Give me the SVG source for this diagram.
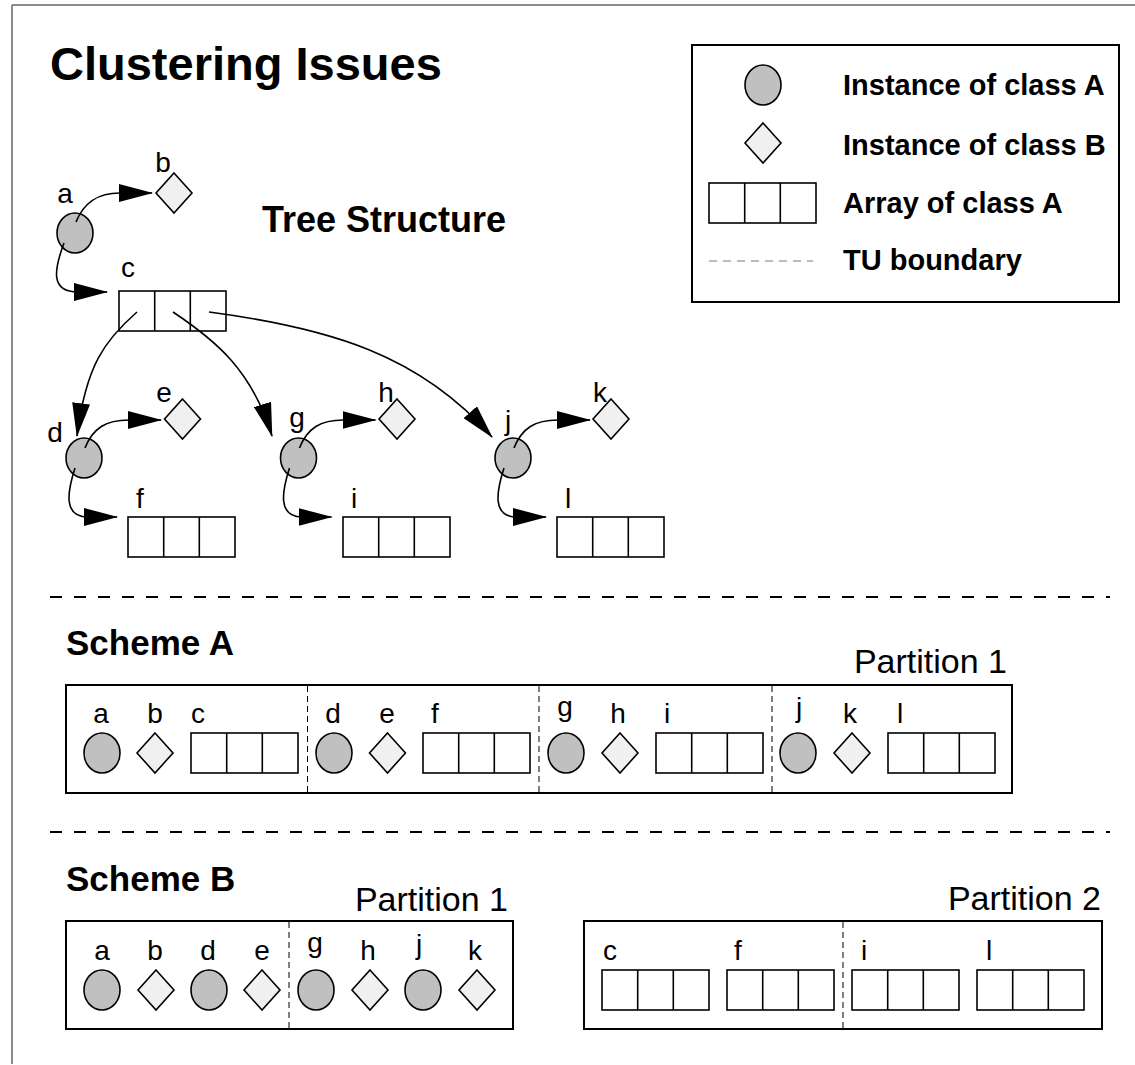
<svg xmlns="http://www.w3.org/2000/svg" xmlns:xlink="http://www.w3.org/1999/xlink" width="1135" height="1065" viewBox="0 0 1135 1065">
<style>
text{font-family:"Liberation Sans",Arial,Helvetica,sans-serif;fill:#000}
.lbl{font-size:28px;text-anchor:middle}
.ttl{font-weight:bold}
.inst{fill:#c0c0c0;stroke:#000;stroke-width:1.6}
.dia{fill:#f0f0f0;stroke:#000;stroke-width:1.6}
.arr rect{fill:#fff;stroke:#000;stroke-width:1.6}
.arr line{stroke:#000;stroke-width:1.6}
.box{fill:none;stroke:#000;stroke-width:2}
.tu{stroke:#000;stroke-width:1;stroke-dasharray:6,4;fill:none}
.sep{stroke:#000;stroke-width:2;stroke-dasharray:12,12;fill:none}
.con{fill:none;stroke:#000;stroke-width:1.6;marker-end:url(#ah)}
.part{font-size:34px;text-anchor:end}
</style>
<defs>
<marker id="ah" markerUnits="userSpaceOnUse" markerWidth="34" markerHeight="18" viewBox="0 0 34 18" refX="33" refY="9" orient="auto">
<path d="M0,0 L34,9 L0,18 Z" fill="#000"/>
</marker>
<g id="arr" class="arr"><rect x="0" y="0" width="107" height="40"/><line x1="35.7" y1="0" x2="35.7" y2="40"/><line x1="71.3" y1="0" x2="71.3" y2="40"/></g>
<path id="dm" class="dia" d="M0,-20 L18,0 L0,20 L-18,0 Z"/>
<ellipse id="ci" class="inst" cx="0" cy="0" rx="18" ry="20"/>
</defs>
<rect width="1135" height="1065" fill="#fff"/>
<g id="frame" stroke="#666" stroke-width="1.5" fill="none">
<line x1="12" y1="5" x2="1135" y2="5"/>
<line x1="12" y1="5" x2="12" y2="1064"/>
</g>
<text x="50" y="80" class="ttl" font-size="47">Clustering Issues</text>
<g id="legend">
<rect class="box" x="692" y="45" width="427" height="257"/>
<use href="#ci" x="763" y="85"/>
<use href="#dm" x="763" y="143"/>
<use href="#arr" x="709" y="183"/>
<line x1="709" y1="261" x2="813" y2="261" stroke="#777" stroke-width="1.2" stroke-dasharray="8,6"/>
<text x="843" y="95" class="ttl" font-size="29">Instance of class A</text>
<text x="843" y="155" class="ttl" font-size="29">Instance of class B</text>
<text x="843" y="213" class="ttl" font-size="29">Array of class A</text>
<text x="843" y="270" class="ttl" font-size="29">TU boundary</text>
</g>
<text x="262" y="232" class="ttl" font-size="36">Tree Structure</text>
<g id="tree-a"><use href="#ci" x="75" y="233"/><text class="lbl" x="65" y="203">a</text></g>
<g id="tree-b"><use href="#dm" x="174" y="193"/><text class="lbl" x="163" y="172">b</text></g>
<g id="tree-c"><use href="#arr" x="119" y="291"/><text class="lbl" x="128" y="277">c</text></g>
<g id="tree-d"><use href="#ci" x="84" y="458"/><text class="lbl" x="55" y="442">d</text></g>
<g id="tree-e"><use href="#dm" x="182.5" y="419"/><text class="lbl" x="164" y="402">e</text></g>
<g id="tree-f"><use href="#arr" x="128" y="517"/><text class="lbl" x="140" y="508">f</text></g>
<g id="tree-g"><use href="#ci" x="298.5" y="458"/><text class="lbl" x="297" y="427">g</text></g>
<g id="tree-h"><use href="#dm" x="397" y="419"/><text class="lbl" x="386" y="402">h</text></g>
<g id="tree-i"><use href="#arr" x="343" y="517"/><text class="lbl" x="354" y="508">i</text></g>
<g id="tree-j"><use href="#ci" x="513" y="458"/><text class="lbl" x="508" y="430">j</text></g>
<g id="tree-k"><use href="#dm" x="611" y="419"/><text class="lbl" x="600" y="402">k</text></g>
<g id="tree-l"><use href="#arr" x="557" y="517"/><text class="lbl" x="568" y="508">l</text></g>
<g id="connectors">
<path class="con" d="M76,222 C84,202 98,193 120,193 L152,193"/>
<path class="con" d="M64,243 C54,270 50,292 78,292 L107,292"/>
<path class="con" d="M137,312 C105,340 86,365 77,436"/>
<path class="con" d="M173,312 C215,340 252,370 272,436"/>
<path class="con" d="M209,312 C330,328 420,355 492,437"/>
<path class="con" d="M85,448 C93,428 106,420 129,420 L161,420"/>
<path class="con" d="M75,468 C68,490 62,517 88,517 L117,517"/>
<path class="con" d="M299.5,448 C307.5,428 320.5,420 343.5,420 L375.5,420"/>
<path class="con" d="M289.5,468 C282.5,490 276.5,517 302.5,517 L331.5,517"/>
<path class="con" d="M514,448 C522,428 535,420 558,420 L590,420"/>
<path class="con" d="M504,468 C497,490 491,517 517,517 L546,517"/>
</g>
<line class="sep" x1="50" y1="597" x2="1110" y2="597"/>
<text x="66" y="655" class="ttl" font-size="35">Scheme A</text>
<text x="1007" y="673" class="part">Partition 1</text>
<g id="schemeA-partition">
<rect class="box" x="66" y="685" width="946" height="108"/>
<line class="tu" x1="307.5" y1="686" x2="307.5" y2="792"/>
<line class="tu" x1="539" y1="686" x2="539" y2="792"/>
<line class="tu" x1="772" y1="686" x2="772" y2="792"/>
</g>
<g id="A-a"><use href="#ci" x="102" y="753"/><text class="lbl" x="101" y="723">a</text></g>
<g id="A-b"><use href="#dm" x="155" y="753"/><text class="lbl" x="155" y="723">b</text></g>
<g id="A-c"><use href="#arr" x="191" y="733"/><text class="lbl" x="198" y="723">c</text></g>
<g id="A-d"><use href="#ci" x="334" y="753"/><text class="lbl" x="333" y="723">d</text></g>
<g id="A-e"><use href="#dm" x="387.5" y="753"/><text class="lbl" x="387" y="723">e</text></g>
<g id="A-f"><use href="#arr" x="423" y="733"/><text class="lbl" x="435" y="723">f</text></g>
<g id="A-g"><use href="#ci" x="566" y="753"/><text class="lbl" x="565" y="716">g</text></g>
<g id="A-h"><use href="#dm" x="620" y="753"/><text class="lbl" x="618" y="723">h</text></g>
<g id="A-i"><use href="#arr" x="656" y="733"/><text class="lbl" x="667" y="723">i</text></g>
<g id="A-j"><use href="#ci" x="798" y="753"/><text class="lbl" x="799" y="717">j</text></g>
<g id="A-k"><use href="#dm" x="852" y="753"/><text class="lbl" x="850" y="723">k</text></g>
<g id="A-l"><use href="#arr" x="888" y="733"/><text class="lbl" x="900" y="723">l</text></g>
<line class="sep" x1="50" y1="832" x2="1110" y2="832"/>
<text x="66" y="891" class="ttl" font-size="35">Scheme B</text>
<text x="508" y="911" class="part">Partition 1</text>
<text x="1101" y="910" class="part">Partition 2</text>
<g id="schemeB-partition1">
<rect class="box" x="66" y="921" width="447" height="108"/>
<line class="tu" x1="289" y1="922" x2="289" y2="1028"/>
</g>
<g id="schemeB-partition2">
<rect class="box" x="584" y="921" width="518" height="108"/>
<line class="tu" x1="843" y1="922" x2="843" y2="1028"/>
</g>
<g id="B-a"><use href="#ci" x="102" y="990"/><text class="lbl" x="102" y="960">a</text></g>
<g id="B-b"><use href="#dm" x="156" y="990"/><text class="lbl" x="155" y="960">b</text></g>
<g id="B-d"><use href="#ci" x="209" y="990"/><text class="lbl" x="208" y="960">d</text></g>
<g id="B-e"><use href="#dm" x="262" y="990"/><text class="lbl" x="262" y="960">e</text></g>
<g id="B-g"><use href="#ci" x="316" y="990"/><text class="lbl" x="315" y="952">g</text></g>
<g id="B-h"><use href="#dm" x="370" y="990"/><text class="lbl" x="368" y="960">h</text></g>
<g id="B-j"><use href="#ci" x="423" y="990"/><text class="lbl" x="419" y="954">j</text></g>
<g id="B-k"><use href="#dm" x="477" y="990"/><text class="lbl" x="475" y="960">k</text></g>
<g id="B-c"><use href="#arr" x="602" y="970"/><text class="lbl" x="610" y="960">c</text></g>
<g id="B-f"><use href="#arr" x="727" y="970"/><text class="lbl" x="738" y="960">f</text></g>
<g id="B-i"><use href="#arr" x="852" y="970"/><text class="lbl" x="864" y="960">i</text></g>
<g id="B-l"><use href="#arr" x="977" y="970"/><text class="lbl" x="989" y="960">l</text></g>
</svg>
